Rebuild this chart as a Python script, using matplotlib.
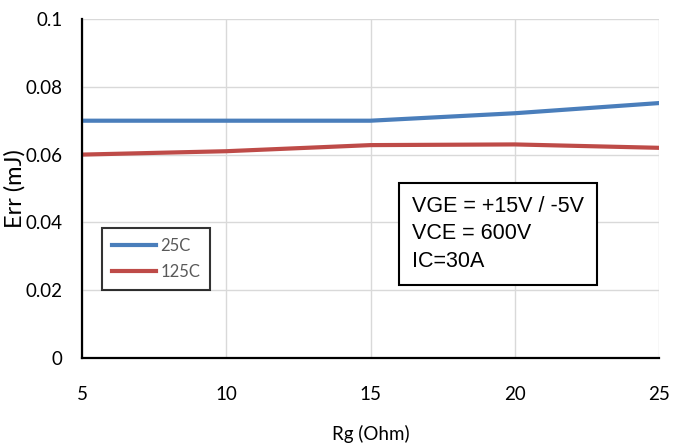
import matplotlib.pyplot as plt
from matplotlib.font_manager import fontManager

rg = [5, 10, 15, 20, 25]
err_25c = [0.070, 0.070, 0.070, 0.0722, 0.0752]
err_125c = [0.060, 0.061, 0.0628, 0.0630, 0.0620]
x_ticks = [5, 10, 15, 20, 25]
y_ticks = [0, 0.02, 0.04, 0.06, 0.08, 0.1]
y_tick_labels = ["0", "0.02", "0.04", "0.06", "0.08", "0.1"]
note_lines = ["VGE = +15V / -5V", "VCE = 600V", "IC=30A"]

names = {f.name for f in fontManager.ttflist}
tick_font = "Lato" if "Lato" in names else "DejaVu Sans"
note_font = "Liberation Sans"

fig = plt.figure(figsize=(6.77, 4.48), dpi=100)
ax = fig.add_axes([82 / 677, 1 - 358 / 448, (659 - 82) / 677, (358 - 19) / 448])

ax.plot(rg, err_25c, color="#4a7ebb", lw=3, label="25C")
ax.plot(rg, err_125c, color="#be4b48", lw=3, label="125C")

ax.set_xlim(5, 25)
ax.set_ylim(0, 0.1)
ax.set_xticks(x_ticks)
ax.set_yticks(y_ticks)
ax.set_yticklabels(y_tick_labels)
ax.grid(True, color="#d9d9d9", lw=1)
ax.set_axisbelow(True)
ax.tick_params(length=0, pad=14, labelsize=13.5)
for lab in ax.get_xticklabels() + ax.get_yticklabels():
    lab.set_fontfamily(tick_font)
ax.xaxis.set_tick_params(pad=20)

for s in ["top", "right"]:
    ax.spines[s].set_visible(False)
for s in ["left", "bottom"]:
    ax.spines[s].set_linewidth(1.6)
    ax.spines[s].set_color("black")

ax.set_xlabel("Rg (Ohm)", fontsize=13.5, fontfamily=tick_font, labelpad=16)
fig.text(15 / 677, 1 - 189 / 448, "Err (mJ)", rotation=90, fontsize=17,
         fontfamily=tick_font, ha="center", va="center")

leg = ax.legend(loc="upper left", bbox_to_anchor=(0.035, 0.383), frameon=True,
                fancybox=False, edgecolor="black", fontsize=12, handlelength=2.6,
                borderpad=0.6, labelspacing=0.6, handletextpad=0.3,
                borderaxespad=0)
leg.get_frame().set_linewidth(1.5)
for t in leg.get_texts():
    t.set_fontfamily(tick_font)
    t.set_color("#595959")

ax.text(0.572, 0.478, "\n".join(note_lines), transform=ax.transAxes,
        fontsize=15.5, fontfamily=note_font, va="top", ha="left", linespacing=1.4,
        bbox=dict(boxstyle="square,pad=0.6", fc="white", ec="black", lw=1.5))

fig.savefig("out.png", dpi=100)
